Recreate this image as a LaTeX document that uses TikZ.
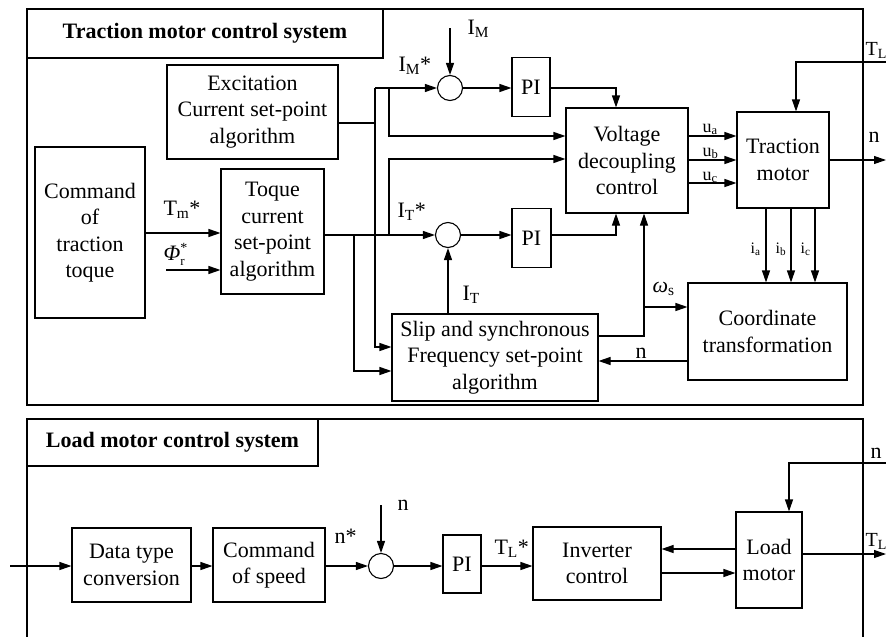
\documentclass[tikz,border=0pt]{standalone}
\usepackage{fontspec}
\setmainfont{Liberation Serif}
\usetikzlibrary{arrows.meta,calc}
\newcommand{\lsub}[1]{\textsubscript{#1}}
\begin{document}
\begin{tikzpicture}[x=1pt,y=-1pt,line width=1.1pt,
  box/.style={draw,line width=1.1pt,align=center,inner sep=0pt,font=\fontsize{22}{26.5}\selectfont},
  ttl/.style={draw,line width=2pt,align=center,inner sep=0pt,font=\fontsize{22}{26.5}\selectfont\bfseries},
  sumc/.style={draw,circle,minimum size=25pt,inner sep=0pt,line width=1.1pt},
  arr/.style={-{Triangle[length=12pt,width=8pt]}},
  lbl/.style={font=\fontsize{22}{26}\selectfont,inner sep=0pt,anchor=base west},
  elbl/.style={font=\fontsize{20}{24}\selectfont,inner sep=0pt,anchor=base west},
  ulbl/.style={font=\fontsize{18}{22}\selectfont,inner sep=0pt,anchor=base west},
  ilbl/.style={font=\fontsize{16}{20}\selectfont,inner sep=0pt,anchor=base west},
  frame/.style={line width=2pt}]
\useasboundingbox (0,0) rectangle (886,637);
% frames
\draw[frame] (27,9) rectangle (863,405);
\draw[frame] (27,637) -- (27,419) -- (863,419) -- (863,637);
\node[ttl,minimum width=356pt,minimum height=49pt] (t1) at (205,33.5) {Traction motor control system};
\node[ttl,minimum width=291pt,minimum height=47pt] (t2) at (172.5,442.5) {Load motor control system};
% top blocks
\node[box,minimum width=171pt,minimum height=94pt] (exc) at (252.5,112) {Excitation\\Current set-point\\algorithm};
\node[box,minimum width=110pt,minimum height=171pt] (cmd) at (90,232.5) {Command\\of\\traction\\toque};
\node[box,minimum width=103pt,minimum height=125pt] (toq) at (272.5,231.5) {Toque\\current\\set-point\\algorithm};
\node[box,minimum width=206pt,minimum height=87pt] (slip) at (495,357.5) {Slip and synchronous\\Frequency set-point\\algorithm};
\node[box,minimum width=122pt,minimum height=105pt] (vdc) at (627,160.5) {Voltage\\decoupling\\control};
\node[box,minimum width=92pt,minimum height=96pt] (tm) at (783,160) {Traction\\motor};
\node[box,minimum width=159pt,minimum height=97pt] (ct) at (767.5,331.5) {Coordinate\\transformation};
\node[box,minimum width=38pt,minimum height=59pt] (pi1) at (531,87) {PI};
\node[box,minimum width=39pt,minimum height=59pt] (pi2) at (531.5,238) {PI};
\node[sumc] (c1) at (450,88) {};
\node[sumc] (c2) at (448,235) {};
% bottom blocks
\node[box,minimum width=119pt,minimum height=74pt] (dtc) at (131.5,565) {Data type\\conversion};
\node[box,minimum width=112pt,minimum height=74pt] (cos) at (269,565) {Command\\of speed};
\node[sumc] (c3) at (381,566) {};
\node[box,minimum width=38pt,minimum height=58pt] (pi3) at (462,564) {PI};
\node[box,minimum width=128pt,minimum height=73pt] (inv) at (597,563.5) {Inverter\\control};
\node[box,minimum width=66pt,minimum height=96pt] (lm) at (769,560) {Load\\motor};
% helper coordinates
\coordinate (bt) at (375,88);
\coordinate (e1) at (375,123);
\coordinate (j3) at (389,88);
\coordinate (j1) at (354,235);
\coordinate (j2) at (389,235);
\coordinate (y233) at (0,233);
\coordinate (y136) at (0,136);
\coordinate (y159) at (0,159);
\coordinate (y160) at (0,160);
\coordinate (y183) at (0,183);
\coordinate (y347) at (0,347);
\coordinate (y371) at (0,371);
\coordinate (y336) at (0,336);
\coordinate (y361) at (0,361);
\coordinate (x616) at (616,0);
\coordinate (x644) at (644,0);
\coordinate (x796) at (796,0);
\coordinate (xi1) at (766,0);
\coordinate (xi2) at (791,0);
\coordinate (xi3) at (815,0);
\coordinate (ws) at (644,307);
\coordinate (imtop) at (450,28);
\coordinate (phiin) at (166,270);
\coordinate (tlin) at (886,62);
\coordinate (nout) at (886,160);
\coordinate (inb) at (10,566);
\coordinate (ntop) at (381,505);
\coordinate (tlout) at (886,554);
\coordinate (nin) at (886,463);
\coordinate (x789) at (789,0);
\coordinate (y549) at (0,549);
\coordinate (y573) at (0,573);
\coordinate (y566) at (0,566);
% top connectors
\draw[arr] (cmd.east |- y233) -- (toq.west |- y233);
\draw[arr] (phiin) -- (toq.west |- phiin);
\draw[arr] (toq.east |- c2) -- (c2.west);
\draw[arr] (j1) |- (slip.west |- y371);
\draw[arr] (j2) |- (vdc.west |- y159);
\draw (exc.east |- e1) -- (e1);
\draw[arr] (bt) -- (c1.west);
\draw[arr] (bt) |- (slip.west |- y347);
\draw[arr] (j3) |- (vdc.west |- y136);
\draw[arr] (imtop) -- (c1.north);
\draw[arr] (c1.east) -- (pi1.west |- c1);
\draw[arr] (pi1.east |- c1) -| (vdc.north -| x616);
\draw[arr] (c2.east) -- (pi2.west |- c2);
\draw[arr] (pi2.east |- c2) -| (vdc.south -| x616);
\draw[arr] (slip.north -| c2) -- (c2.south);
\draw[arr] (slip.east |- y336) -| (vdc.south -| x644);
\draw[arr] (ws) -- (ct.west |- ws);
\draw[arr] (ct.west |- y361) -- (slip.east |- y361);
\draw[arr] (vdc.east |- y136) -- (tm.west |- y136);
\draw[arr] (vdc.east |- y160) -- (tm.west |- y160);
\draw[arr] (vdc.east |- y183) -- (tm.west |- y183);
\draw[arr] (tlin) -| (tm.north -| x796);
\draw[arr] (tm.east |- nout) -- (nout);
\draw[arr] (tm.south -| xi1) -- (ct.north -| xi1);
\draw[arr] (tm.south -| xi2) -- (ct.north -| xi2);
\draw[arr] (tm.south -| xi3) -- (ct.north -| xi3);
% top labels
\node[lbl] (lim1) at (398,71) {I\lsub{M}*};
\node[lbl] (lim) at (467,34) {I\lsub{M}};
\node[lbl] (ltm) at (163,215) {T\lsub{m}*};
\node[lbl] (lphi) at (163,260) {\textit{Φ}\rlap{\raisebox{8pt}{\fontsize{14}{14}\selectfont *}}\raisebox{-5pt}{\fontsize{13}{13}\selectfont r}};
\node[lbl] (lit1) at (397,217) {I\lsub{T}*};
\node[lbl] (lit) at (462,300) {I\lsub{T}};
\node[lbl] (lws) at (652,292) {\textit{ω}\lsub{s}};
\node[lbl] (ln1) at (635,358) {n};
\node[ulbl] (lua) at (702,132) {u\lsub{a}};
\node[ulbl] (lub) at (702,156) {u\lsub{b}};
\node[ulbl] (luc) at (702,180) {u\lsub{c}};
\node[ilbl] (lia) at (750,253) {i\lsub{a}};
\node[ilbl] (lib) at (775,253) {i\lsub{b}};
\node[ilbl] (lic) at (800,253) {i\lsub{c}};
\node[elbl] (ltl1) at (865,55) {T\lsub{L}};
\node[lbl] (ln2) at (868,142) {n};
% bottom connectors
\draw[arr] (inb) -- (dtc.west |- inb);
\draw[arr] (dtc.east |- y566) -- (cos.west |- y566);
\draw[arr] (cos.east |- c3) -- (c3.west);
\draw[arr] (ntop) -- (c3.north);
\draw[arr] (c3.east) -- (pi3.west |- c3);
\draw[arr] (pi3.east |- y566) -- (inv.west |- y566);
\draw[arr] (lm.west |- y549) -- (inv.east |- y549);
\draw[arr] (inv.east |- y573) -- (lm.west |- y573);
\draw[arr] (lm.east |- tlout) -- (tlout);
\draw[arr] (nin) -| (lm.north -| x789);
% bottom labels
\node[lbl] (lns) at (334,543) {n*};
\node[lbl] (ln3) at (397,510) {n};
\node[lbl] (ltls) at (494,554) {T\lsub{L}*};
\node[elbl] (ltl2) at (865,546) {T\lsub{L}};
\node[lbl] (ln4) at (870,458) {n};
\end{tikzpicture}
\end{document}
